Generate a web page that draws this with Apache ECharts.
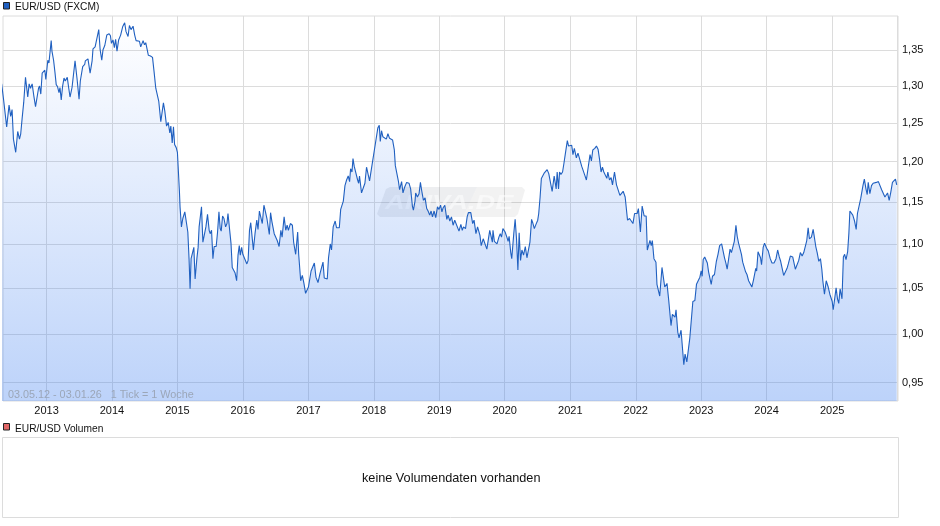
<!DOCTYPE html>
<html>
<head>
<meta charset="utf-8">
<style>html,body{margin:0;padding:0;background:#fff}#c{width:940px;height:526px}</style>
<script src="https://cdn.jsdelivr.net/npm/echarts@6/dist/echarts.min.js"></script>
</head>
<body>
<div id="c"></div>
<script>
// Each yearly list holds [week of the year, EUR/USD rate]
const y2012=[[16.5,1.303],[18,1.282],[20.5,1.245],[22.4,1.274],[23.7,1.259],[24.8,1.268],[25.9,1.229],[26.7,1.227],[27.7,1.212],[29.3,1.239],[30.7,1.229],[31.7,1.236],[32.8,1.256],[34.1,1.278],[35.5,1.312],[37.3,1.285],[38.4,1.303],[39.5,1.297],[40.8,1.303],[42.1,1.287],[43.5,1.272],[44.5,1.273],[45.9,1.297],[46.7,1.30],[47.7,1.289],[48.8,1.318],[50.1,1.318],[50.9,1.322],[51.7,1.309]];
const y2013=[[1,1.336],[1.9,1.332],[3.7,1.364],[4.3,1.349],[5.6,1.336],[6.7,1.319],[7.7,1.302],[8.8,1.299],[9.9,1.291],[10.7,1.298],[11.7,1.281],[12.8,1.30],[13.9,1.311],[14.9,1.307],[16.5,1.312],[17.6,1.298],[18.7,1.285],[20.3,1.298],[22.7,1.335],[24.3,1.31],[25.9,1.282],[26.9,1.307],[28.8,1.327],[30.4,1.33],[30.9,1.335],[32,1.333],[33,1.338],[34.7,1.318],[36.3,1.335],[37,1.352],[38.7,1.355],[39.7,1.354],[41.6,1.38],[42.7,1.351],[44,1.336],[45,1.351],[46.4,1.357],[48,1.372],[49,1.37],[49.9,1.374],[50.9,1.371],[51.7,1.36]];
const y2014=[[.8,1.365],[1.9,1.354],[2.9,1.366],[4,1.349],[5.3,1.365],[6.9,1.372],[8.5,1.384],[10.1,1.39],[11.2,1.377],[12.8,1.37],[13.9,1.386],[15.2,1.38],[16.8,1.385],[18.1,1.372],[19.2,1.364],[20.5,1.363],[21.9,1.363],[22.9,1.355],[24.8,1.364],[25.9,1.358],[26.9,1.361],[29,1.343],[30.7,1.342],[32.3,1.34],[33.6,1.319],[34.9,1.297],[36,1.297],[37.3,1.279],[38.9,1.252],[41,1.277],[42.1,1.266],[43.5,1.246],[44.8,1.251],[46.1,1.237],[46.9,1.246],[48,1.224],[49,1.245],[49.9,1.222],[51.2,1.218]];
const y2015=[[0,1.212],[1.6,1.163],[2.1,1.144],[3.2,1.12],[4.3,1.13],[5.9,1.138],[7.2,1.138],[8.3,1.114],[9.3,1.082],[10.1,1.049],[10.9,1.083],[13.1,1.096],[14.1,1.06],[15.5,1.083],[16.5,1.096],[17.3,1.12],[18.4,1.122],[19.2,1.144],[20.3,1.102],[21.3,1.10],[22.7,1.12],[24,1.135],[25.3,1.116],[26.1,1.112],[27.2,1.116],[28.3,1.083],[29.3,1.097],[30.9,1.097],[32,1.114],[33.1,1.138],[34.1,1.118],[34.9,1.115],[36,1.133],[37.1,1.13],[38.4,1.12],[39.5,1.124],[40.3,1.136],[41.6,1.135],[42.7,1.101],[43.7,1.073],[44.8,1.075],[45.9,1.067],[47.2,1.058],[48.3,1.087],[49.3,1.098],[50.1,1.087],[51.2,1.096]];
const y2016=[[0,1.088],[1.3,1.088],[3.2,1.077],[4.2,1.081],[5.3,1.116],[6.3,1.125],[7.4,1.108],[8.4,1.093],[9.7,1.112],[11.1,1.128],[12.1,1.117],[13.2,1.139],[14.2,1.14],[15.5,1.124],[16.8,1.146],[17.9,1.139],[19.2,1.13],[21.1,1.111],[22.1,1.137],[23.2,1.126],[24.2,1.127],[25,1.112],[26.1,1.114],[27.4,1.104],[28.9,1.097],[30.3,1.116],[31.3,1.108],[32.9,1.132],[34.2,1.116],[35.3,1.122],[36.3,1.116],[37.9,1.124],[39.5,1.122],[40.5,1.102],[42.1,1.088],[43.7,1.114],[44.5,1.088],[46.1,1.058],[47.4,1.064],[48.7,1.055],[50,1.044],[51.1,1.044]];
const y2017=[[0,1.051],[.8,1.053],[2.1,1.069],[3.4,1.07],[4.7,1.078],[6,1.062],[7.6,1.056],[9.2,1.066],[11.6,1.079],[12.6,1.061],[13.9,1.059],[15,1.06],[16,1.084],[17.4,1.10],[18.4,1.093],[19.7,1.12],[21.3,1.127],[22.4,1.119],[24.6,1.119],[25.7,1.141],[26.7,1.139],[27.8,1.151],[29.1,1.17],[30.4,1.177],[31.7,1.182],[32.8,1.175],[33.6,1.191],[34.7,1.187],[35.5,1.204],[36.5,1.194],[37.6,1.194],[39.2,1.177],[40,1.173],[40.7,1.182],[42.3,1.161],[43.7,1.161],[45,1.173],[46.3,1.193],[47.4,1.191],[48.7,1.176],[49.7,1.175],[51.1,1.20],[51.9,1.202]];
const y2018=[[1.1,1.222],[1.9,1.224],[3.2,1.244],[4.3,1.247],[5.1,1.226],[6.1,1.24],[7.2,1.232],[8.5,1.232],[9.9,1.229],[11.2,1.236],[12.5,1.23],[13.9,1.232],[14.9,1.228],[16.3,1.215],[17.1,1.195],[18.1,1.195],[19.5,1.176],[20.5,1.165],[22.1,1.175],[23.2,1.161],[24.5,1.168],[26.1,1.174],[28,1.173],[29.3,1.166],[30.7,1.145],[31.5,1.14],[32.8,1.151],[33.3,1.161],[34.7,1.156],[36,1.16],[37.1,1.174],[38.1,1.164],[39.5,1.152],[40.8,1.155],[42.1,1.142],[43.2,1.139],[44.5,1.134],[45.6,1.139],[46.7,1.132],[48,1.139],[49.3,1.131],[50.7,1.144],[51.9,1.141]];
const y2019=[[1,1.146],[2.1,1.138],[3.1,1.143],[4.4,1.146],[6,1.129],[7,1.134],[8.4,1.127],[9.7,1.132],[11,1.122],[12.3,1.128],[13.6,1.127],[15.7,1.115],[17.2,1.123],[18.3,1.116],[19.3,1.12],[20.9,1.118],[22.2,1.132],[23.2,1.137],[25.1,1.137],[26.6,1.124],[27.7,1.128],[29.2,1.112],[30.5,1.12],[32.4,1.11],[33.4,1.098],[35,1.106],[36.3,1.107],[37.9,1.094],[40.2,1.116],[41.3,1.117],[42.3,1.102],[42.8,1.116],[43.9,1.103],[46,1.10],[47.5,1.108],[48.6,1.112],[49.6,1.108],[50.7,1.118],[51.9,1.116]];
const y2020=[[.3,1.114],[1.9,1.107],[2.7,1.103],[3.5,1.109],[4.8,1.09],[5.6,1.083],[6.4,1.085],[7.2,1.112],[8.3,1.129],[9.4,1.106],[10.5,1.07],[11.5,1.113],[12.6,1.081],[13.7,1.093],[15,1.087],[16.4,1.097],[17.7,1.084],[19,1.082],[20.1,1.102],[21.4,1.129],[22.3,1.125],[23.6,1.118],[24.9,1.123],[26.3,1.128],[27.1,1.136],[28.2,1.156],[29.2,1.179],[30.3,1.181],[31.6,1.186],[33,1.184],[33.8,1.19],[35.1,1.185],[36.5,1.184],[37.8,1.163],[39.4,1.182],[41,1.166],[41.8,1.187],[42.9,1.166],[43.7,1.187],[44.8,1.184],[46.1,1.187],[47.2,1.198],[48.3,1.21],[49.9,1.227],[50.9,1.22]];
const y2021=[[0,1.222],[1.1,1.221],[2.1,1.209],[3.2,1.217],[4.8,1.205],[6.1,1.211],[7.5,1.21],[9.1,1.194],[10.1,1.195],[11.5,1.183],[12.8,1.177],[14.7,1.198],[15.7,1.209],[16.8,1.201],[17.9,1.215],[19.5,1.217],[20.8,1.22],[22.1,1.216],[23.2,1.204],[24.5,1.187],[25.6,1.193],[26.7,1.187],[28,1.185],[29.1,1.179],[29.9,1.187],[31.2,1.177],[32.5,1.18],[33.6,1.171],[35.2,1.187],[36.8,1.171],[38.1,1.172],[39.5,1.158],[40.8,1.158],[42.1,1.163],[43.7,1.156],[44.8,1.154],[45.6,1.128],[47.2,1.13],[48.5,1.129],[49.9,1.124],[51.2,1.136]];
const y2022=[[0,1.138],[1.1,1.136],[2.1,1.142],[3.7,1.114],[5.1,1.145],[6.7,1.133],[8.3,1.133],[9.2,1.093],[10.5,1.091],[11.3,1.104],[12.4,1.098],[13.2,1.104],[14.5,1.083],[16.1,1.079],[16.9,1.054],[18.3,1.054],[19.1,1.041],[20.9,1.073],[22,1.073],[23.1,1.051],[23.9,1.049],[24.9,1.055],[26.3,1.036],[28.1,1.009],[29.2,1.021],[30.5,1.022],[31.3,1.018],[32.1,1.026],[33.5,1.002],[34.5,.996],[36.1,1.004],[37.2,1.002],[38.3,.968],[39.3,.979],[40.7,.971],[41.5,.971],[43.1,.996],[44.4,.996],[45.5,1.035],[46.3,1.034],[47.1,1.036],[48.4,1.054],[49.5,1.054],[51.1,1.062]];
const y2023=[[0,1.069],[.8,1.063],[1.6,1.082],[2.8,1.085],[3.9,1.086],[4.9,1.078],[5.9,1.068],[7,1.068],[8,1.054],[9,1.063],[10.6,1.065],[12.1,1.08],[13.4,1.088],[14.7,1.098],[16.3,1.10],[17.6,1.101],[18.6,1.084],[19.7,1.078],[20.7,1.071],[21.7,1.07],[23,1.094],[24.1,1.09],[25.4,1.092],[26.4,1.103],[27.7,1.122],[28.7,1.109],[29.8,1.101],[30.8,1.099],[32.1,1.088],[33.1,1.079],[34.2,1.077],[35.4,1.068],[36.5,1.065],[37.8,1.058],[39.1,1.058],[40.4,1.051],[41.7,1.059],[42.4,1.058],[43.5,1.072],[44.2,1.069],[45.3,1.091],[46.3,1.093],[47.3,1.084],[48.1,1.076],[49.4,1.096],[50.5,1.101],[51.5,1.103]];
const y2024=[[0,1.095],[1.3,1.092],[2.9,1.083],[4.3,1.078],[5.9,1.078],[7.5,1.083],[8.8,1.093],[10.1,1.085],[11.2,1.08],[12.5,1.082],[13.6,1.064],[14.9,1.066],[16.3,1.072],[17.3,1.077],[18.9,1.086],[20.8,1.085],[21.9,1.083],[22.9,1.071],[24.3,1.07],[25.6,1.081],[26.9,1.09],[28.3,1.086],[29.6,1.09],[30.9,1.092],[32,1.104],[33.1,1.119],[34.1,1.106],[35.7,1.108],[37.1,1.117],[38.1,1.117],[39.2,1.097],[40.3,1.09],[41.6,1.08],[42.9,1.083],[44,1.071],[44.8,1.058],[46.1,1.043],[47.5,1.058],[49.1,1.051],[50.4,1.043],[51.2,1.042]];
const y2025=[[0,1.035],[.8,1.026],[1.8,1.026],[3.1,1.05],[4.2,1.038],[5.2,1.033],[6.3,1.049],[7.8,1.038],[8.9,1.085],[9.9,1.088],[11,1.082],[12.3,1.091],[13.3,1.113],[14.1,1.139],[15.1,1.14],[16.4,1.134],[17.8,1.127],[19.1,1.117],[20.1,1.136],[21.1,1.136],[22.7,1.154],[23.5,1.152],[24.5,1.17],[25.6,1.178],[26.9,1.166],[27.9,1.159],[28.7,1.174],[30,1.16],[31.3,1.17],[32.6,1.173],[33.9,1.171],[35.2,1.174],[36.8,1.175],[38.1,1.173],[39.4,1.165],[40.7,1.165],[42,1.156],[43.1,1.154],[44.1,1.161],[45.4,1.152],[46.7,1.162],[48,1.174],[49.1,1.172],[50.4,1.178],[51.4,1.171]];
const yearLists=[[2012,y2012],[2013,y2013],[2014,y2014],[2015,y2015],[2016,y2016],[2017,y2017],[2018,y2018],[2019,y2019],[2020,y2020],[2021,y2021],[2022,y2022],[2023,y2023],[2024,y2024],[2025,y2025]];
const rateTicks=[0.95,1.00,1.05,1.10,1.15,1.20,1.25,1.30,1.35];
const lastYearLabel=2025;
const startDate=Date.UTC(2012,4,3), endDate=Date.UTC(2026,0,3);
const rateMin=0.9316, rateMax=1.40;
const titleMain='EUR/USD (FXCM)', titleVol='EUR/USD Volumen', rangeNote='03.05.12 - 03.01.26   1 Tick = 1 Woche', noVol='keine Volumendaten vorhanden', watermark='ARIVA.DE';

const WEEK=7*864e5;
const points=[];
yearLists.forEach(([yr,list])=>list.forEach(([w,v])=>points.push([Date.UTC(yr,0,1)+w*WEEK,v])));
const FONT='"Liberation Sans", Arial, sans-serif';
const GRID='#dcdcdc';

const chart=echarts.init(document.getElementById('c'),null,{renderer:'canvas'});
chart.setOption({
  animation:false,
  useUTC:true,
  backgroundColor:'#fff',
  grid:{left:3,right:42,top:16,height:385,show:true,borderColor:GRID,borderWidth:1,backgroundColor:'#fff'},
  xAxis:{type:'time',min:startDate,max:endDate,minInterval:365*864e5,maxInterval:366*864e5,
    axisLine:{show:false},
    axisTick:{show:false},
    axisLabel:{hideOverlap:false,showMinLabel:false,showMaxLabel:false,color:'#111',fontFamily:FONT,fontSize:11,margin:4,
      formatter:v=>{const y=new Date(v).getUTCFullYear();return y>lastYearLabel?'':String(y);}},
    splitLine:{show:true,showMinLine:false,showMaxLine:false,lineStyle:{color:GRID,width:1}}},
  yAxis:{type:'log',logBase:10,min:rateMin,max:rateMax,position:'right',
    axisLine:{show:false},
    axisTick:{show:false,customValues:rateTicks},
    axisLabel:{customValues:rateTicks,color:'#111',fontFamily:FONT,fontSize:11,margin:4,padding:[3,0,0,0],
      formatter:v=>Number(v).toFixed(2).replace('.',',')},
    splitLine:{show:true,lineStyle:{color:GRID,width:1}}},
  series:[{type:'line',data:points,showSymbol:false,smooth:false,silent:true,z:3,
    lineStyle:{color:'#2060c0',width:1.1},
    areaStyle:{origin:'start',opacity:1,color:{type:'linear',x:0,y:0,x2:0,y2:1,colorStops:[
      {offset:0,color:'rgba(60,125,240,0)'},{offset:1,color:'rgba(60,125,240,0.34)'}]}}}],
  graphic:{elements:[
    {type:'polygon',z:1,shape:{points:[[390,187],[477,187],[463,217],[380,217],[377,214],[386,189]]},style:{fill:'rgba(60,70,90,0.09)'}},
    {type:'polygon',z:1,shape:{points:[[477,187],[522,187],[525,190],[518,214],[515,217],[463,217]]},style:{fill:'rgba(0,0,0,0.05)'}},
    {type:'text',z:2,x:385,y:193,scaleX:1.3,style:{text:watermark,font:'italic bold 21px "Liberation Sans", Arial, sans-serif',fill:'rgba(255,255,255,0.5)'}},
    {type:'text',z:5,left:8,top:390,style:{text:rangeNote,font:'10.8px "Liberation Sans", Arial, sans-serif',fill:'#9ba6b8'}},
    {type:'rect',z:5,shape:{x:3.5,y:2.5,width:6,height:6.5},style:{fill:'#1f5fc0',stroke:'#222',lineWidth:1}},
    {type:'text',z:5,left:15,top:2,style:{text:titleMain,font:'10.2px "Liberation Sans", Arial, sans-serif',fill:'#111'}},
    {type:'rect',z:5,shape:{x:3.5,y:423.5,width:6,height:6.5},style:{fill:'#e06666',stroke:'#222',lineWidth:1}},
    {type:'text',z:5,left:15,top:424,style:{text:titleVol,font:'10.2px "Liberation Sans", Arial, sans-serif',fill:'#111'}},
    {type:'rect',z:1,shape:{x:2.5,y:437.5,width:896,height:80},style:{fill:'#fff',stroke:GRID,lineWidth:1}},
    {type:'text',z:5,left:362,top:472,style:{text:noVol,font:'12.7px "Liberation Sans", Arial, sans-serif',fill:'#111'}}
  ]}
});
</script>
</body>
</html>
